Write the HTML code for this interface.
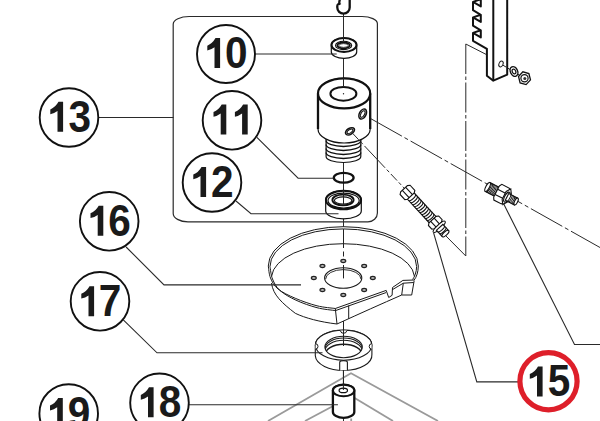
<!DOCTYPE html>
<html><head><meta charset="utf-8"><style>
html,body{margin:0;padding:0;background:#fff;overflow:hidden}
svg{display:block}
.n{font-family:"Liberation Sans",sans-serif;font-weight:bold;font-size:43.6px;fill:#1a1a1a}
</style></head><body>
<svg width="600" height="421" viewBox="0 0 600 421">
<path d="M189.2 16.5H362A15.4 7.2 0 0 1 377.4 23.7V213A9.5 8.8 0 0 1 367.9 221.8H188A14.8 8.3 0 0 1 173.2 213.5V24.3A16 7.8 0 0 1 189.2 16.5Z" fill="none" stroke="#2a2a2a" stroke-width="1.2"/>
<g fill="none" stroke="#2a2a2a" stroke-width="1">
<path d="M343.5 13.5V41 M343.5 58V87 M343.5 162V196 M343.5 218V229"/>
<path d="M343.5 321V346 M343.5 370V390 M343.5 417V421"/>
<path d="M465.8 44V256" stroke-dasharray="30 2.5 3.5 2.5"/>
<path d="M465.8 44L486.9 54.8"/>
<path d="M445 235L465.8 256"/>
<path d="M370.5 118.5L600 247.5" stroke-dasharray="36 3 4 3"/>
<path d="M501 64L525 78.5" stroke-dasharray="6 2"/>
</g>
<g fill="none" stroke="#9a9a9a" stroke-width="1.8">
<path d="M268 421L351 373.3L438 421"/>
<path d="M305 421L335 405"/>
<path d="M353 397L393 421"/>
<path d="M351.2 418.5V421"/>
</g>
<path d="M349.7 -2V7.5A6.2 6.2 0 0 1 337.3 7.5V6C337.3 3.8 339.3 3.2 340.3 4.6 M339.6 4.6C338.8 2.6 339.4 0.5 340.4 -2" fill="none" stroke="#111" stroke-width="2.3"/>
<g stroke="#111" fill="#fff">
<path d="M331.3 45A12.7 7 0 0 1 356.7 45V52A12.7 6.3 0 0 1 331.3 52Z" stroke-width="1.2"/>
<ellipse cx="344" cy="45" rx="12.5" ry="6.9" stroke-width="2"/>
<ellipse cx="343.6" cy="45.4" rx="8.1" ry="4.2" stroke-width="1.1"/>
<ellipse cx="343.6" cy="45.4" rx="6.3" ry="2.9" stroke-width="1.8"/>
<ellipse cx="343.6" cy="45.5" rx="4.6" ry="1.9" stroke-width="0.8"/>
</g>
<path d="M343.5 37V41" stroke="#222" stroke-width="1"/>
<g stroke="#111" fill="#fff" stroke-width="1.3">
<path d="M326.1 136V156.5A17.35 6 0 0 0 360.8 156.5V136Z" stroke-width="1.2"/>
<path d="M326.1 140.5A17.35 6 0 0 0 360.8 140.5" fill="none"/>
<path d="M326.1 144.5A17.35 6 0 0 0 360.8 144.5" fill="none"/>
<path d="M326.1 148.5A17.35 6 0 0 0 360.8 148.5" fill="none"/>
<path d="M326.1 152.5A17.35 6 0 0 0 360.8 152.5" fill="none"/>
</g>
<g stroke="#111" fill="#fff">
<path d="M318 93.4A26.1 15 0 0 1 370.2 93.4V129A26.1 14 0 0 1 318 129Z" stroke-width="1.2"/>
<path d="M318 93.4V129M370.2 93.4V129" stroke-width="2.3" fill="none"/>
<ellipse cx="344.1" cy="93.4" rx="26.1" ry="15" stroke-width="2.2"/>
<ellipse cx="343.4" cy="93.8" rx="13" ry="6.9" stroke-width="2"/>
<ellipse cx="362.7" cy="114" rx="5.4" ry="3.3" transform="rotate(-62 362.7 114)" stroke-width="1.5" fill="#bbb"/>
<ellipse cx="362.7" cy="114" rx="3.6" ry="1.8" transform="rotate(-62 362.7 114)" stroke-width="1" fill="#fff"/>
<ellipse cx="350" cy="131.3" rx="5" ry="3" transform="rotate(-32 350 131.3)" stroke-width="1.5" fill="#bbb"/>
<ellipse cx="350" cy="131.3" rx="3.3" ry="1.6" transform="rotate(-32 350 131.3)" stroke-width="1" fill="#fff"/>
</g>
<path d="M343.5 78V87" stroke="#222" stroke-width="1"/>
<circle cx="343.5" cy="93.8" r="0.7" fill="#222"/>
<path d="M352.5 133.2L405 189" fill="none" stroke="#2a2a2a" stroke-width="1" stroke-dasharray="9 2.5 3.5 2.5 30 2.5 3.5 2.5"/>
<ellipse cx="343.7" cy="177.8" rx="9.9" ry="4.9" fill="none" stroke="#111" stroke-width="2.3"/>
<g stroke="#111" fill="#fff">
<path d="M325.7 200A17.8 9.3 0 0 1 361.3 200V211A17.8 7.8 0 0 1 325.7 211Z" stroke-width="1.2"/>
<ellipse cx="343.5" cy="200" rx="17.6" ry="9.2" stroke-width="2"/>
<ellipse cx="343.6" cy="200.6" rx="15.6" ry="7.5" stroke-width="1.2" fill="none"/>
<ellipse cx="343" cy="200" rx="10.6" ry="5.4" stroke-width="1.9"/>
<ellipse cx="343.1" cy="200.5" rx="8.7" ry="3.6" stroke-width="1.1"/>
</g>
<path d="M343.5 189V204" stroke="#222" stroke-width="1"/>
<path d="M268.3 266 A75 39.3 0 0 1 418.3 266 C418.3 272 416 277 414.2 280 L411.7 295 H401.7 Q372 308 337 324 C326 322.5 305 318 290 309 C280 303 274.5 296 273.7 289 L268.3 266Z" fill="#fff" stroke="none"/>
<g fill="none" stroke="#1a1a1a" stroke-width="1">
<path d="M268.3 266A75 39.3 0 0 1 418.3 266"/>
<path d="M270 266.5A73.3 37.6 0 0 1 416.6 266.5"/>
<path d="M418.3 266C418.3 272 416.5 277 414.2 280 M416.6 266.5C416.6 272 414.5 277 412.6 279.5"/>
<path d="M271.6 276.2A71.5 34.3 0 0 1 414.4 276.2"/>
<path d="M268.3 266 C268.67 268 268.88 274.17 270.5 278 C272.12 281.83 273.87 285.62 278 289 C282.13 292.38 288.8 295.5 295.3 298.3 C301.8 301.1 310.33 304.1 317 305.8 C323.67 307.5 332.25 308.05 335.3 308.5 L386.2 290.4 L388.7 297.5 L392.1 295.3 L392.5 287.5 L402.9 280.4 L414.2 280"/>
<path d="M270 266.5 C270.42 268.58 270.83 275 272.5 279 C274.17 283 276.08 286.97 280 290.5 C283.92 294.03 289.83 297.33 296 300.2 C302.17 303.07 310.42 305.97 317 307.7 C323.58 309.43 332.42 310.12 335.5 310.6 L386 292.6"/>
<path d="M392.5 289.6 L403.3 283.2 L413.7 282.5"/>
<path d="M271.5 283 C273 295 282 303 295.3 313.3 C305 318 320 322 337 324 Q372 308 401.7 295"/>
<path d="M335.3 308.5L337 324 M348.7 305.5V318.8"/>
<path d="M403.3 283.2L401.7 295H411.7L414.2 280.5"/>
</g>
<g fill="none" stroke="#1a1a1a">
<ellipse cx="343.2" cy="278" rx="18.6" ry="10.3" stroke-width="1.1"/>
<path d="M325.6 279.2A17.7 9.6 0 0 1 361 279.2" stroke-width="0.9"/>
<ellipse cx="372.8" cy="278" rx="2.5" ry="1.6" fill="#8a8a8a" stroke="#222" stroke-width="1.1"/>
<ellipse cx="372.8" cy="277.9" rx="1.3" ry="0.45" fill="#fff" stroke="none"/>
<ellipse cx="364.16" cy="290.02" rx="2.5" ry="1.6" fill="#8a8a8a" stroke="#222" stroke-width="1.1"/>
<ellipse cx="364.16" cy="289.92" rx="1.3" ry="0.45" fill="#fff" stroke="none"/>
<ellipse cx="343.3" cy="295" rx="2.5" ry="1.6" fill="#8a8a8a" stroke="#222" stroke-width="1.1"/>
<ellipse cx="343.3" cy="294.9" rx="1.3" ry="0.45" fill="#fff" stroke="none"/>
<ellipse cx="322.44" cy="290.02" rx="2.5" ry="1.6" fill="#8a8a8a" stroke="#222" stroke-width="1.1"/>
<ellipse cx="322.44" cy="289.92" rx="1.3" ry="0.45" fill="#fff" stroke="none"/>
<ellipse cx="313.8" cy="278" rx="2.5" ry="1.6" fill="#8a8a8a" stroke="#222" stroke-width="1.1"/>
<ellipse cx="313.8" cy="277.9" rx="1.3" ry="0.45" fill="#fff" stroke="none"/>
<ellipse cx="322.44" cy="265.98" rx="2.5" ry="1.6" fill="#8a8a8a" stroke="#222" stroke-width="1.1"/>
<ellipse cx="322.44" cy="265.88" rx="1.3" ry="0.45" fill="#fff" stroke="none"/>
<ellipse cx="343.3" cy="261" rx="2.5" ry="1.6" fill="#8a8a8a" stroke="#222" stroke-width="1.1"/>
<ellipse cx="343.3" cy="260.9" rx="1.3" ry="0.45" fill="#fff" stroke="none"/>
<ellipse cx="364.16" cy="265.98" rx="2.5" ry="1.6" fill="#8a8a8a" stroke="#222" stroke-width="1.1"/>
<ellipse cx="364.16" cy="265.88" rx="1.3" ry="0.45" fill="#fff" stroke="none"/>
</g>
<path d="M343.5 229V248M343.5 251.5V256.5M343.5 265V278.4" stroke="#222" stroke-width="1" fill="none"/>
<defs><clipPath id="hole17"><ellipse cx="343.6" cy="347" rx="18.7" ry="10.7"/></clipPath></defs>
<g stroke="#1a1a1a" fill="#fff" stroke-width="1.1">
<path d="M315.3 345.2A28.2 15 0 0 1 371.9 345.2V354.5A28.2 15.3 0 0 1 315.3 355.8Z"/>
<ellipse cx="343.6" cy="345.2" rx="28.2" ry="15"/>
<ellipse cx="343.6" cy="347" rx="18.7" ry="10.7"/>
<g clip-path="url(#hole17)" fill="none">
<path d="M325 348.8A18.6 10.7 0 0 1 362.2 348.8" stroke-width="1.05"/>
<path d="M325 351A18.6 10.7 0 0 1 362.2 351" stroke-width="1.05"/>
<path d="M325 355A18.6 10.7 0 0 1 362.2 355" stroke-width="1.5"/>
</g>
<path d="M340.2 330.6L341.8 333H345.4L347 330.6" stroke-width="1"/>
<path d="M315.6 343.8A2.4 2.6 0 0 1 315.6 349" stroke-width="1"/>
<path d="M371.6 343.8A2.4 2.6 0 0 0 371.6 349" stroke-width="1"/>
<path d="M339.7 370.4V362.4A3.85 1.8 0 0 1 347.4 362.4V370.2" stroke-width="1.1"/>
</g>
<path d="M343.5 321V346" stroke="#222" stroke-width="1"/>
<g stroke="#111" fill="#fff">
<path d="M332.9 390.5A10.7 5.8 0 0 1 354.3 390.5V412A10.7 5.8 0 0 1 332.9 412Z" stroke-width="2.3"/>
<ellipse cx="343.6" cy="390.5" rx="10.7" ry="5.8" stroke-width="2.1"/>
<ellipse cx="343.3" cy="390.4" rx="4.2" ry="2.2" stroke-width="1.2"/>
</g>
<path d="M343.4 370V390" stroke="#222" stroke-width="1"/>
<path d="M473 -10 V-5.3 L480.8 -0.7 V6.4 L473 1.9 L480.8 -0.7 M473 1.9 V10.2 L480.8 14.8 V21.9 L473 17.4 L480.8 14.8 M473 17.4 V25.7 L480.8 30.3 V37.4 L473 32.9 L480.8 30.3 M473 32.9 V40.8 L486.9 48.8 V75.7 L493.3 80.7 L507.2 74.7 V-2" fill="none" stroke="#111" stroke-width="2" stroke-linejoin="round"/>
<path d="M493.3 -2V80.7" fill="none" stroke="#111" stroke-width="2"/>
<ellipse cx="501" cy="64" rx="2" ry="3" transform="rotate(25 501 64)" fill="#fff" stroke="#222" stroke-width="1"/>
<g stroke="#111" fill="#fff">
<ellipse cx="514" cy="71.5" rx="3.6" ry="5" transform="rotate(-25 514 71.5)" stroke-width="1.4"/>
<ellipse cx="514" cy="71.5" rx="1.7" ry="2.5" transform="rotate(-25 514 71.5)" stroke-width="1.2"/>
<polygon points="530.49,79.91 526.1,84.58 520.12,82.87 518.51,76.49 522.9,71.82 528.88,73.53" stroke-width="1.3"/>
<circle cx="524.5" cy="78.2" r="3.6" stroke-width="1.2"/>
<circle cx="524.8" cy="78.6" r="1.5" fill="#333" stroke="none"/>
</g>
<g transform="translate(407.8 192.8) rotate(47.3)" stroke="#111" fill="#fff" stroke-width="1.1">
<path d="M4 -4.6H37V4.6H4Z"/>
<path d="M6 -4.6A1.9 4.6 0 0 1 6 4.6" fill="none"/>
<path d="M8.7 -4.6A1.9 4.6 0 0 1 8.7 4.6" fill="none"/>
<path d="M11.4 -4.6A1.9 4.6 0 0 1 11.4 4.6" fill="none"/>
<path d="M14.1 -4.6A1.9 4.6 0 0 1 14.1 4.6" fill="none"/>
<path d="M16.8 -4.6A1.9 4.6 0 0 1 16.8 4.6" fill="none"/>
<path d="M19.5 -4.6A1.9 4.6 0 0 1 19.5 4.6" fill="none"/>
<path d="M22.2 -4.6A1.9 4.6 0 0 1 22.2 4.6" fill="none"/>
<path d="M24.9 -4.6A1.9 4.6 0 0 1 24.9 4.6" fill="none"/>
<path d="M27.6 -4.6A1.9 4.6 0 0 1 27.6 4.6" fill="none"/>
<path d="M30.3 -4.6A1.9 4.6 0 0 1 30.3 4.6" fill="none"/>
<path d="M33 -4.6A1.9 4.6 0 0 1 33 4.6" fill="none"/>
<path d="M35.7 -4.6A1.9 4.6 0 0 1 35.7 4.6" fill="none"/>
<path d="M-5.5 -4.6 L-4.0 -6.8 H3.0 L4.5 -4.6 V4.6 L3.0 6.8 H-4.0 L-5.5 4.6Z"/>
<path d="M-5.5 -2.2H4.5M-5.5 2.4H4.5" fill="none"/>
<path d="M36.5 -4.8 L38.0 -7 H43.0 L44.5 -4.8 V4.8 L43.0 7 H38.0 L36.5 4.8Z"/>
<path d="M36.5 -2.2H44.5M36.5 2.5H44.5" fill="none"/>
<ellipse cx="46.3" cy="0" rx="2.1" ry="8"/>
<path d="M47 -4.4H55.5V4.4H47Z"/>
<path d="M49 -4.4A1.5 4.4 0 0 1 49 4.4" fill="none"/>
<path d="M51.4 -4.4A1.5 4.4 0 0 1 51.4 4.4" fill="none"/>
<path d="M53.6 -4.4A1.5 4.4 0 0 1 53.6 4.4" fill="none"/>
<ellipse cx="55.5" cy="0" rx="1.8" ry="4.4"/>
</g>
<g transform="translate(487.6 187) rotate(27)" stroke="#111" fill="#fff" stroke-width="1.1">
<path d="M0 -5H12V5H0Z"/>
<path d="M1 -5A1.8 5 0 0 1 1 5" fill="none" stroke-width="0.9"/>
<path d="M2.35 -5A1.8 5 0 0 1 2.35 5" fill="none" stroke-width="0.9"/>
<path d="M3.7 -5A1.8 5 0 0 1 3.7 5" fill="none" stroke-width="0.9"/>
<path d="M5.05 -5A1.8 5 0 0 1 5.05 5" fill="none" stroke-width="0.9"/>
<path d="M6.4 -5A1.8 5 0 0 1 6.4 5" fill="none" stroke-width="0.9"/>
<path d="M7.75 -5A1.8 5 0 0 1 7.75 5" fill="none" stroke-width="0.9"/>
<path d="M9.1 -5A1.8 5 0 0 1 9.1 5" fill="none" stroke-width="0.9"/>
<path d="M10.45 -5A1.8 5 0 0 1 10.45 5" fill="none" stroke-width="0.9"/>
<ellipse cx="0" cy="0" rx="1.8" ry="5"/>
<path d="M10 -6.200000000000001 L11.5 -8.8 H20.0 L21.5 -6.200000000000001 V6.200000000000001 L20.0 8.8 H11.5 L10 6.200000000000001Z"/>
<path d="M10 -2.6H21.5M10 3.2H21.5" fill="none"/>
<path d="M24.44 4.4 L21.5 8.8 L18.56 4.4 L18.56 -4.4 L21.5 -8.8 L24.44 -4.4Z"/>
<ellipse cx="21.8" cy="0.3" rx="2.3" ry="5.4" fill="none"/>
<path d="M21.8 -3.8H32V3.8H21.8Z"/>
<path d="M23.4 -3.8A1.4 3.8 0 0 1 23.4 3.8" fill="none" stroke-width="0.9"/>
<path d="M24.9 -3.8A1.4 3.8 0 0 1 24.9 3.8" fill="none" stroke-width="0.9"/>
<path d="M26.4 -3.8A1.4 3.8 0 0 1 26.4 3.8" fill="none" stroke-width="0.9"/>
<path d="M27.9 -3.8A1.4 3.8 0 0 1 27.9 3.8" fill="none" stroke-width="0.9"/>
<path d="M29.4 -3.8A1.4 3.8 0 0 1 29.4 3.8" fill="none" stroke-width="0.9"/>
<path d="M30.9 -3.8A1.4 3.8 0 0 1 30.9 3.8" fill="none" stroke-width="0.9"/>
<ellipse cx="32" cy="0" rx="1.5" ry="3.8"/>
</g>
<g fill="none" stroke="#2a2a2a" stroke-width="1.1">
<path d="M98.5 117.5H173.5"/>
<path d="M255 54H336.7"/>
<path d="M256.9 137.3L298.1 178.2H333.3"/>
<path d="M236 201L251 213.7H338.5"/>
<path d="M126.1 247L164 284.9H301"/>
<path d="M123.3 319.9L157 352.8H322.5"/>
<path d="M188.7 404.7H337.9"/>
<path d="M433.6 232.8L476.8 381.9H519"/>
<path d="M503.5 203.5L574.5 344.5H600"/>
</g>
<g fill="#fff" stroke="#111" stroke-width="1.9">
<circle cx="226" cy="54" r="29"/>
<circle cx="232" cy="120.3" r="29.3"/>
<circle cx="212" cy="182.5" r="29.3"/>
<circle cx="69" cy="117.5" r="29.3"/>
<circle cx="109.2" cy="221.3" r="29.3"/>
<circle cx="100" cy="301.3" r="29.3"/>
<circle cx="159.5" cy="402.8" r="29.3"/>
<circle cx="68.7" cy="413.5" r="29.3"/>
</g>
<circle cx="548.5" cy="381.2" r="28.6" fill="#fff" stroke="#de1f2a" stroke-width="5.2"/>
<path fill="#1a1a1a" d="M215.5 38.1H220.1V68.1H214.5V47.3Q211.3 49.7 207.3 50.5V45.7Q212.5 43.5 215.5 38.1Z M221.7 104.4H226.3V134.4H220.7V113.6Q217.5 116 213.5 116.8V112Q218.7 109.8 221.7 104.4Z M243.1 104.4H247.7V134.4H242.1V113.6Q238.9 116 234.9 116.8V112Q240.1 109.8 243.1 104.4Z M201.5 166.9H206.1V196.9H200.5V176.1Q197.3 178.5 193.3 179.3V174.5Q198.5 172.3 201.5 166.9Z M58.5 101.8H63.1V131.8H57.5V111Q54.3 113.4 50.3 114.2V109.4Q55.5 107.2 58.5 101.8Z M98.7 205.7H103.3V235.7H97.7V214.9Q94.5 217.3 90.5 218.1V213.3Q95.7 211.1 98.7 205.7Z M89.5 286.2H94.1V316.2H88.5V295.4Q85.3 297.8 81.3 298.6V293.8Q86.5 291.6 89.5 286.2Z M149 387.3H153.6V417.3H148V396.5Q144.8 398.9 140.8 399.7V394.9Q146 392.7 149 387.3Z M58.2 398H62.8V428H57.2V407.2Q54 409.6 50 410.4V405.6Q55.2 403.4 58.2 398Z M538 366.4H542.6V396.4H537V375.6Q533.8 378 529.8 378.8V374Q535 371.8 538 366.4Z"/>
<g class="n"><text transform="translate(224.9 68.1) scale(0.93 1)">0</text><text transform="translate(211.09 196.9) scale(0.93 1)">2</text><text transform="translate(68.57 131.8) scale(0.93 1)">3</text><text transform="translate(108.22 235.7) scale(0.93 1)">6</text><text transform="translate(98.76 316.2) scale(0.93 1)">7</text><text transform="translate(158.71 417.3) scale(0.93 1)">8</text><text transform="translate(67.79 428) scale(0.93 1)">9</text><text transform="translate(547.75 396.4) scale(0.93 1)">5</text></g>
</svg>
</body></html>
